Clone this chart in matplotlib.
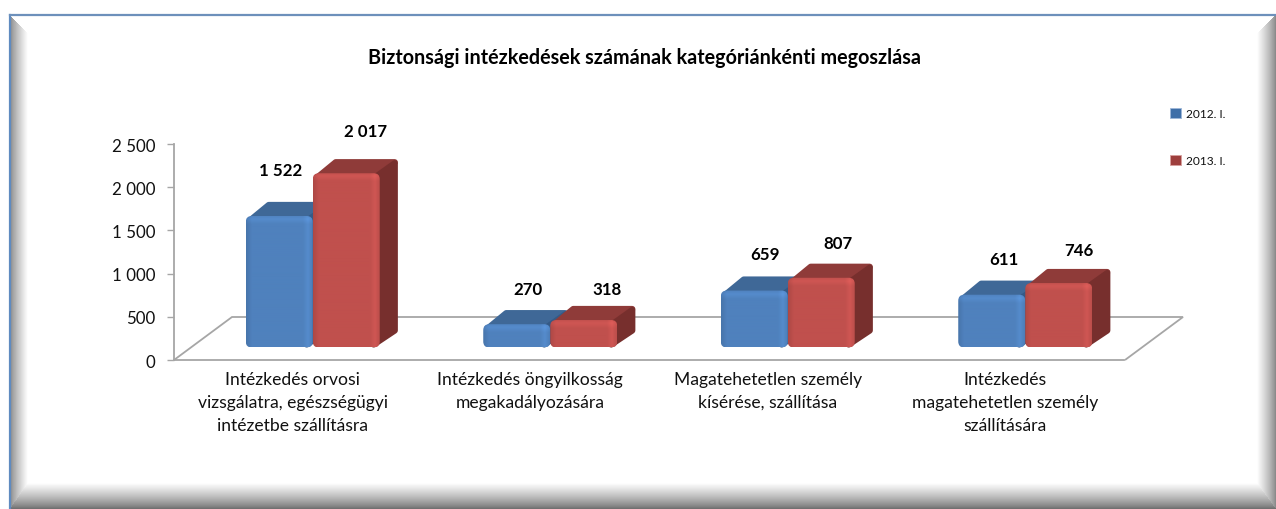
import numpy as np
import matplotlib
matplotlib.use("Agg")
import matplotlib.pyplot as plt
from matplotlib.patches import Polygon, FancyBboxPatch, Patch

categories = [
    "Intézkedés orvosi\nvizsgálatra, egészségügyi\nintézetbe szállításra",
    "Intézkedés öngyilkosság\nmegakadályozására",
    "Magatehetetlen személy\nkísérése, szállítása",
    "Intézkedés\nmagatehetetlen személy\nszállítására",
]
series_names = ["2012. I.", "2013. I."]
values_2012 = [1522, 270, 659, 611]
values_2013 = [2017, 318, 807, 746]
y_ticks = [0, 500, 1000, 1500, 2000, 2500]
title = "Biztonsági intézkedések számának kategóriánkénti megoszlása"

W, H = 1276, 510
plt.rcParams["font.family"] = ["Lato", "DejaVu Sans"]

fig = plt.figure(figsize=(W / 100, H / 100), dpi=100, facecolor="white")

# pixel axes for the bevelled frame
bg = fig.add_axes([0, 0, 1, 1])
bg.set_xlim(0, W)
bg.set_ylim(H, 0)
bg.axis("off")

xx, yy = np.meshgrid(np.arange(W) + 0.5, np.arange(H) + 0.5)
t_left = (xx - 10) / 18
t_right = (W - xx) / 19
t_bottom = (H - yy) / 26
t_top = (yy - 16) / 19
t_side = np.minimum(np.minimum(t_left, t_right), t_bottom)
bevel = 0.52 + 0.48 * np.clip(t_side, 0, 1) ** 0.8
bevel[t_bottom == t_side] = (0.42 + 0.58 * np.clip(t_bottom, 0, 1) ** 0.8)[t_bottom == t_side]
bevel[t_top < t_side] = 1.0
bevel[(xx < 10) | (yy < 16)] = 1.0
bg.imshow(bevel, cmap="gray", vmin=0, vmax=1, extent=(0, W, H, 0), aspect="auto", interpolation="bilinear")
bg.set_xlim(0, W)
bg.set_ylim(H, 0)
bg.plot([9.5, 9.5], [H, 15.5], color="#5f8bc0", lw=1.6)
bg.plot([9.5, W], [15.5, 15.5], color="#6d90bb", lw=1.6)

# chart axes
ax = fig.add_axes([174 / W, 1 - 361 / H, 950 / W, 216 / H], facecolor="none")
ax.set_xlim(0, 4)
ax.set_ylim(0, 2500)
for s in ["top", "right"]:
    ax.spines[s].set_visible(False)
for s in ["left", "bottom"]:
    ax.spines[s].set_color("#a6a6a6")
    ax.spines[s].set_linewidth(1.3)
ax.set_yticks(y_ticks)
ax.set_yticklabels([f"{v:,}".replace(",", " ") for v in y_ticks], fontsize=12.2, color="#111111")
ax.tick_params(axis="y", length=5, width=1, color="#a6a6a6", pad=8.5)
ax.set_xticks(np.arange(len(categories)) + 0.5)
ax.set_xticklabels(categories, fontsize=12.6, color="#111111", linespacing=1.53)
ax.tick_params(axis="x", length=0, pad=8)

# floor of the 3d box
floor = [(174, 361), (232, 318), (1183, 318), (1125, 361)]
ax.add_patch(Polygon(floor, closed=False, fill=False, edgecolor="#a6a6a6", lw=1.3,
                     transform=bg.transData, clip_on=False, zorder=1))


def to_px(x, v):
    px = ax.transData.transform((x, v))
    return bg.transData.inverted().transform(px)


def face_image(rgb, w, h):
    # shading of the bar front: dark left edge, light band under the top and at the right
    xp = np.arange(w) + 0.5
    col_x = np.interp(xp, [0, 6, w - 10, w - 5, w], [0.9, 1.0, 1.0, 1.08, 0.97])
    yp = np.arange(h) + 0.5
    col_y = np.interp(yp, [0, 4, 9, h], [1.0, 1.08, 1.0, 1.0])
    col = np.outer(col_y, col_x)
    return np.clip(col[:, :, None] * np.array(rgb), 0, 1)


def draw_bar(x0, x1, v, front, top, side, z):
    xl, yb = to_px(x0, 0)
    xr, yt = to_px(x1, v)
    xl, xr = xl + 20, xr + 20
    yb, yt = yb - 12.5, yt - 12.5
    dx, dy = 18, 14
    r = 6
    ax.add_patch(Polygon([(xl + 6, yt + 3), (xl + dx + 5, yt - dy + 3), (xr + dx - 3, yt - dy + 3), (xr, yt + 3)],
                         facecolor=top, edgecolor=top, lw=4.5, joinstyle="round",
                         transform=bg.transData, clip_on=False, zorder=z))
    ax.add_patch(Polygon([(xr - 6, yt + 5), (xr + dx - 3, yt - dy + 4), (xr + dx - 3, yb - dy - 3), (xr - 6, yb - 3)],
                         facecolor=side, edgecolor=side, lw=4.5, joinstyle="round",
                         transform=bg.transData, clip_on=False, zorder=z))
    box = FancyBboxPatch((xl + r, yt + r), xr - xl - 2 * r, yb - yt - 2 * r,
                         boxstyle=f"round,pad={r},rounding_size={r}", facecolor=front, edgecolor="none",
                         transform=bg.transData, clip_on=False, zorder=z + 0.1)
    im = ax.imshow(face_image(matplotlib.colors.to_rgb(front), int(xr - xl), max(int(yb - yt), 2)),
                   extent=(xl, xr, yb, yt), transform=bg.transData, aspect="auto",
                   zorder=z + 0.2, interpolation="bilinear")
    im.set_clip_path(box)
    ax.set_xlim(0, 4)
    ax.set_ylim(0, 2500)
    return xl, xr, yt


bar_w = 67 / 237.5
blue = ("#4f81bd", "#3f6897", "#355a86")
red = ("#c0504d", "#8f3b39", "#772f2d")

# pixel offsets of the value labels from the bar's top centre
label_dx_2012 = [1, 11, 11, 12]
label_dy_2012 = [46, 35, 37, 36]
label_dx_2013 = [19, 23, 17, 20]
label_dy_2013 = [42, 31, 35, 33]

for i, cat_x in enumerate(np.arange(len(categories)) + 0.5):
    xl, xr, yt = draw_bar(cat_x - bar_w, cat_x, values_2012[i], *blue, 3 + i)
    ax.annotate(f"{values_2012[i]:,}".replace(",", " "), xy=((xl + xr) / 2, yt), xycoords=bg.transData,
                xytext=(label_dx_2012[i], label_dy_2012[i]), textcoords="offset pixels",
                ha="center", va="center", fontsize=12.2, fontweight="bold", color="black", annotation_clip=False)
    xl, xr, yt = draw_bar(cat_x, cat_x + bar_w, values_2013[i], *red, 3.5 + i)
    ax.annotate(f"{values_2013[i]:,}".replace(",", " "), xy=((xl + xr) / 2, yt), xycoords=bg.transData,
                xytext=(label_dx_2013[i], label_dy_2013[i]), textcoords="offset pixels",
                ha="center", va="center", fontsize=12.2, fontweight="bold", color="black", annotation_clip=False)

fig.text(645 / W, 1 - 58 / H, title, ha="center", va="center", fontsize=14.2, fontweight="bold", color="black")

handles = [Patch(facecolor="#3f6fa8", edgecolor="#9db7d8", lw=0.6),
           Patch(facecolor="#9e3f3d", edgecolor="#d8a09e", lw=0.6)]
fig.legend(handles, series_names, loc="upper left", bbox_to_anchor=(1166 / W, 1 - 105 / H), frameon=False,
           fontsize=8.6, labelspacing=3.0, handlelength=0.95, handleheight=0.95, handletextpad=0.4,
           borderpad=0, borderaxespad=0.3, labelcolor="#111111")

fig.savefig("out.png", dpi=100, facecolor="white")
